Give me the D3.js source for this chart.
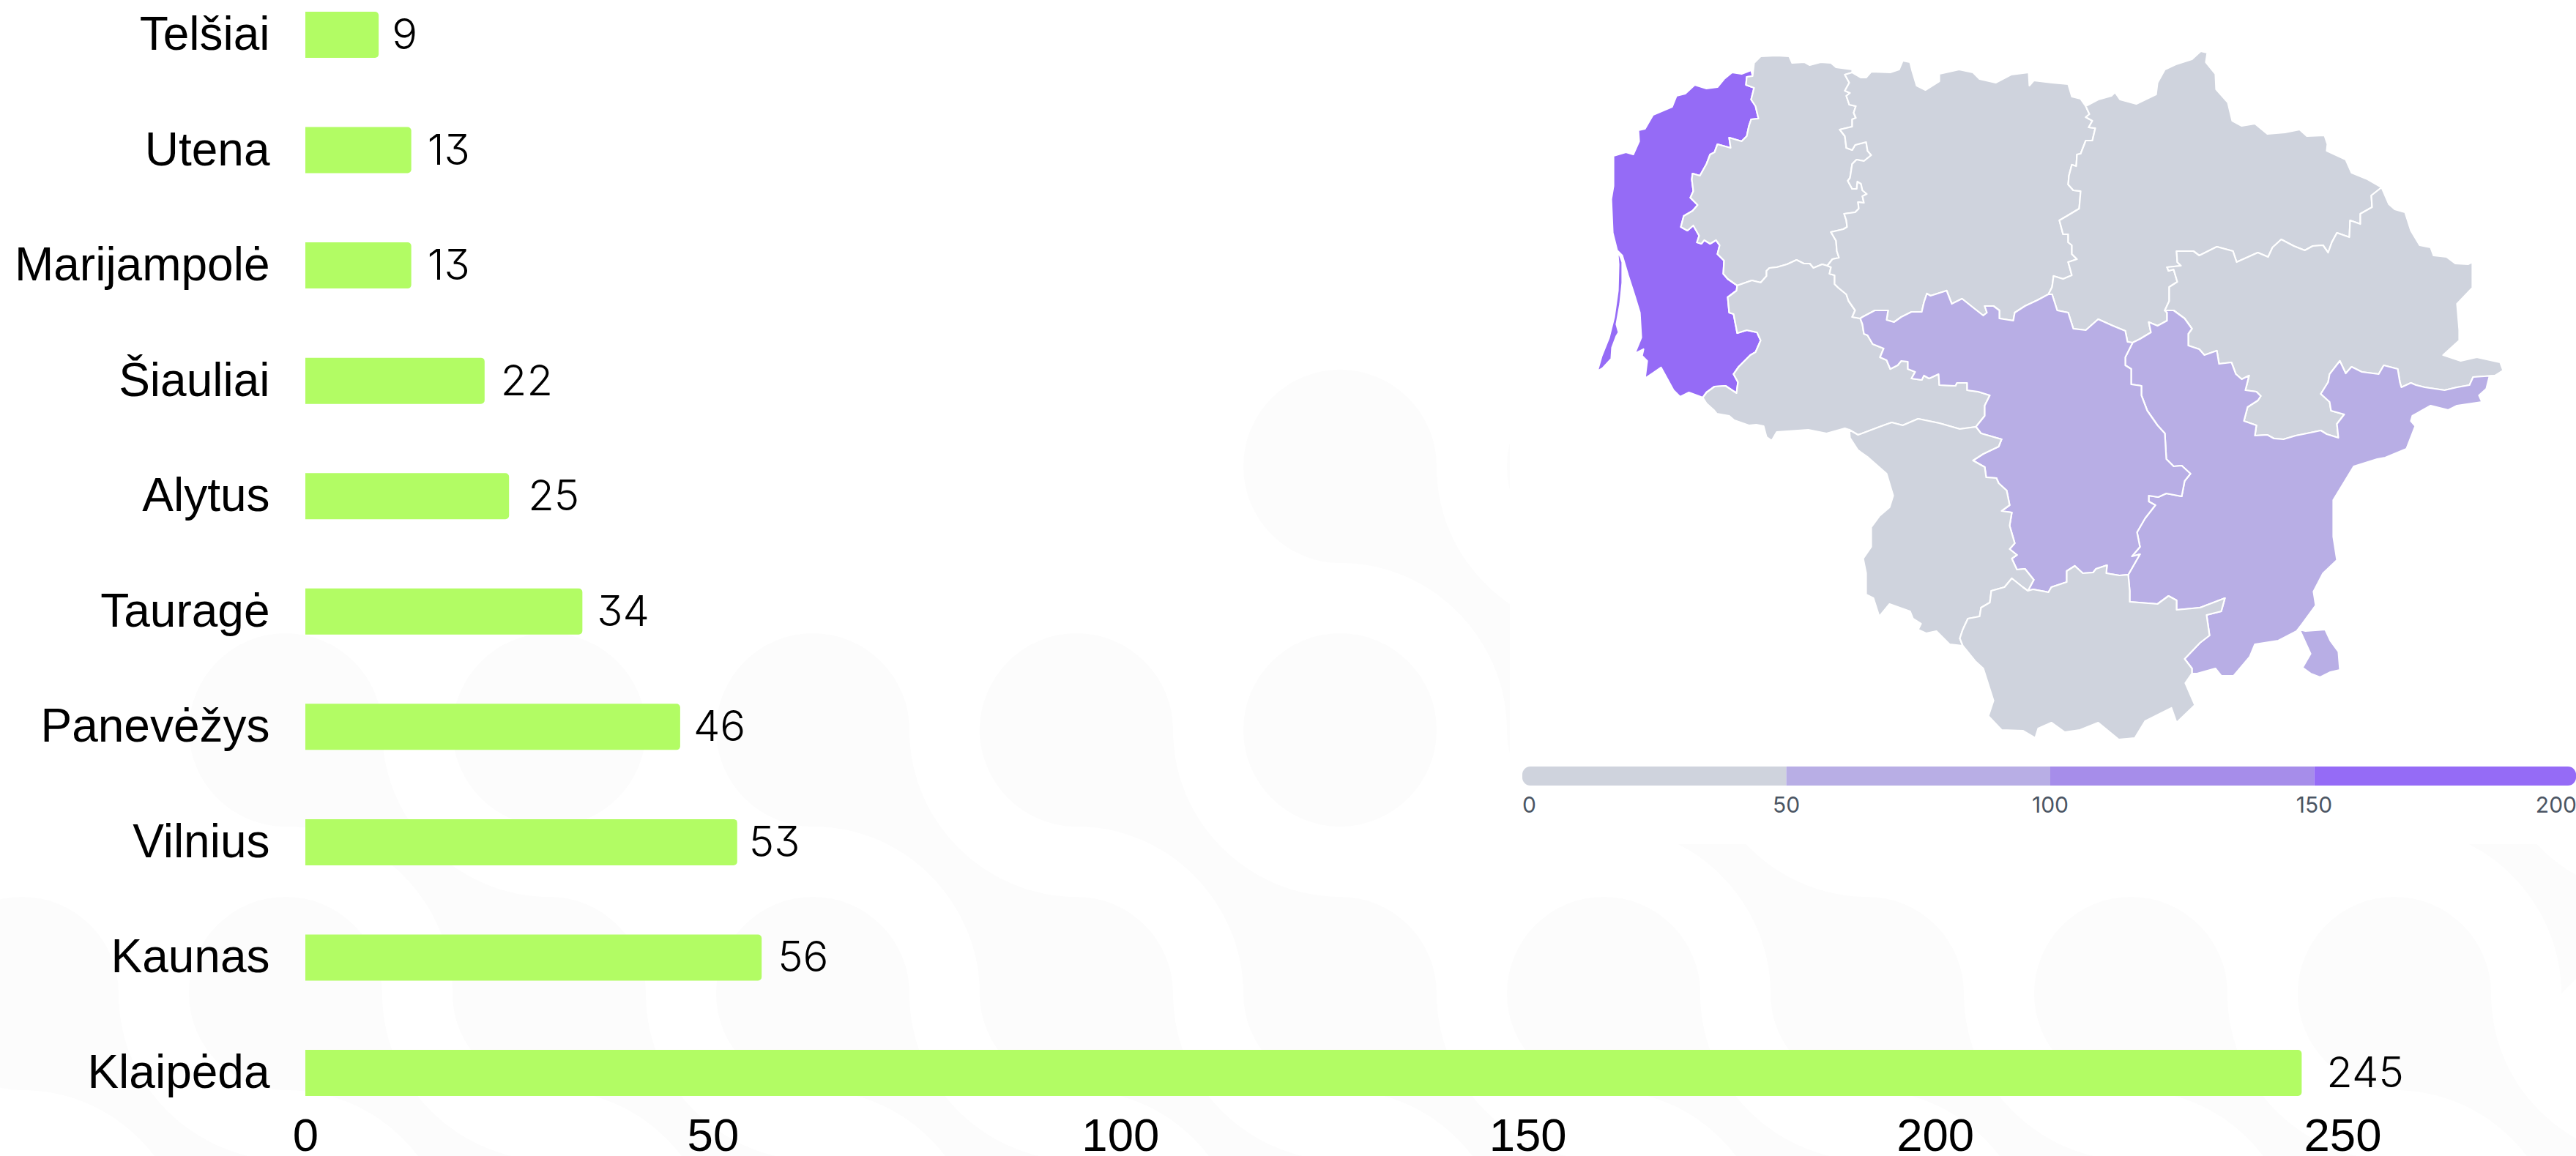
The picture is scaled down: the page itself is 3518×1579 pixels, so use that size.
<!DOCTYPE html>
<html><head><meta charset="utf-8">
<style>html,body{margin:0;padding:0;background:#fff;overflow:hidden}svg{display:block}</style>
<script src="https://cdn.jsdelivr.net/npm/d3@7"></script>
</head><body><svg id="c" width="3518" height="1579"></svg>
<script>
// ---------- bar chart data ----------
const categories=["Telšiai","Utena","Marijampolė","Šiauliai","Alytus","Tauragė","Panevėžys","Vilnius","Kaunas","Klaipėda"];
const values=[9,13,13,22,25,34,46,53,56,245];
const xTicks=[0,50,100,150,200,250];
// ---------- legend ----------
const legendBreaks=[50,100,150];
const legendColors=["#cfd3dd","#b8aee5","#a68dea","#956bf6"];
const legendTicks=[0,50,100,150,200];
// ---------- background motif (tile column,row) ----------
const motifCircles=[[5,0],[6,0],[1,1],[2,1],[3,1],[4,1],[5,1],[6,1],[0,2],[1,2],[2,2],[3,2],[4,2],[5,2],[6,2],[7,2],[8,2],[9,2]];
const motifStems=[[5,0],[1,1],[3,1],[4,1],[6,1],[9,1],[0,2],[1,2],[2,2],[3,2],[4,2],[5,2],[6,2],[7,2],[8,2],[9,2]];
// ---------- map borders (map units) ----------
const coast=[[2395,104],[2393,96],[2380,101],[2367,99],[2356,108],[2347,119],[2332,121],[2316,116],[2303,128],[2291,131],[2285,146],[2259,157],[2248,176],[2239,178],[2240,193],[2232,211],[2222,208],[2205,213],[2205,254],[2202,272],[2204,318],[2210,342],[2217,349],[2225,376],[2234,404],[2241,427],[2243,461],[2234,483],[2246,477],[2244,486],[2251,493],[2248,517],[2270,502],[2287,533],[2296,542],[2308,536],[2327,543]];
const klTaurage=[[2327,543],[2332,536],[2343,528],[2358,527],[2373,537],[2375,522],[2369,511],[2376,501],[2392,485],[2399,481],[2406,465],[2401,454],[2387,451],[2374,455],[2369,429],[2363,427],[2361,406],[2373,397],[2374,390]];
const klTelsiai=[[2374,390],[2361,381],[2355,374],[2356,356],[2347,347],[2350,335],[2345,328],[2337,333],[2329,328],[2325,333],[2319,331],[2322,322],[2314,308],[2306,315],[2297,310],[2301,295],[2313,288],[2320,280],[2310,270],[2314,261],[2312,245],[2313,237],[2323,240],[2332,224],[2337,211],[2343,208],[2347,197],[2365,202],[2363,188],[2380,193],[2387,186],[2390,172],[2393,163],[2403,162],[2399,145],[2393,136],[2397,120],[2386,116],[2387,105],[2395,104]];
const spit=[[2183,507],[2190,503],[2202,490],[2203,475],[2209,459],[2212,454],[2209,443],[2214,415],[2217,386],[2217,358],[2213,347],[2211,349],[2212,361],[2211,397],[2206,433],[2199,461],[2189,486],[2180,506]];
const telsiaiNorth=[[2395,104],[2397,86],[2406,77],[2428,76],[2445,77],[2449,86],[2466,85],[2473,89],[2488,85],[2502,86],[2509,92],[2531,95],[2531,99]];
const telsiaiSiauliai=[[2531,99],[2521,102],[2527,113],[2521,124],[2528,127],[2523,131],[2527,143],[2536,145],[2533,154],[2536,161],[2531,163],[2531,173],[2514,177],[2521,186],[2523,202],[2531,205],[2535,198],[2550,194],[2552,206],[2557,212],[2547,220],[2537,218],[2531,224],[2528,243],[2525,247],[2531,258],[2537,258],[2538,248],[2543,251],[2545,260],[2551,265],[2545,268],[2547,277],[2539,276],[2540,285],[2535,290],[2520,292],[2523,301],[2524,310],[2519,313],[2502,317],[2509,329],[2510,343],[2513,352],[2504,354],[2497,363]];
const telsiaiTaurage=[[2497,363],[2490,361],[2478,366],[2473,360],[2465,360],[2455,355],[2442,361],[2428,365],[2418,366],[2414,370],[2414,377],[2406,386],[2394,383],[2374,390]];
const tauSouth=[[2327,543],[2332,551],[2342,560],[2346,565],[2363,568],[2370,574],[2390,581],[2400,580],[2410,582],[2414,597],[2421,602],[2428,590],[2471,587],[2496,592],[2521,585],[2527,587]];
const tauMarij=[[2527,587],[2539,594],[2571,582],[2585,577],[2600,581],[2621,572],[2650,578],[2678,586],[2700,583]];
const tauKaunas=[[2700,583],[2712,568],[2712,554],[2719,540],[2703,535],[2688,533],[2688,523],[2674,523],[2672,527],[2650,526],[2649,511],[2636,517],[2629,513],[2626,519],[2612,517],[2617,508],[2607,504],[2607,494],[2598,493],[2593,499],[2583,504],[2578,492],[2569,488],[2574,476],[2559,470],[2552,458],[2547,456],[2545,443],[2542,435]];
const tauSiauliai=[[2542,435],[2531,433],[2535,424],[2526,411],[2523,402],[2512,393],[2507,388],[2507,376],[2500,374],[2502,365],[2497,363]];
const siauliaiNorth=[[2531,99],[2543,106],[2550,106],[2557,98],[2583,99],[2595,95],[2600,83],[2610,85],[2613,97],[2619,117],[2631,123],[2650,111],[2650,101],[2677,95],[2696,99],[2705,108],[2727,113],[2748,102],[2772,99],[2773,117],[2779,110],[2804,113],[2826,115],[2831,132],[2843,135],[2850,145]];
const siauliaiPan=[[2850,145],[2855,156],[2850,160],[2859,165],[2854,174],[2863,175],[2859,192],[2850,192],[2843,210],[2838,211],[2837,227],[2831,225],[2827,240],[2826,252],[2833,260],[2843,261],[2841,285],[2826,294],[2814,301],[2819,320],[2826,320],[2826,331],[2831,335],[2831,347],[2838,354],[2826,358],[2831,376],[2819,381],[2806,377],[2804,392],[2799,402]];
const siauliaiKaunas=[[2799,402],[2784,410],[2767,418],[2753,427],[2751,438],[2732,435],[2732,424],[2724,418],[2712,418],[2715,427],[2710,431],[2696,420],[2681,408],[2667,415],[2660,397],[2638,404],[2633,401],[2629,413],[2626,426],[2612,426],[2598,433],[2588,440],[2578,437],[2580,424],[2562,424],[2545,433],[2542,435]];
const panNorth=[[2850,145],[2867,136],[2885,131],[2890,126],[2897,136],[2919,142],[2946,129],[2948,113],[2958,95],[2973,88],[2995,81],[3007,70],[3016,72],[3014,85],[3027,101],[3028,122],[3044,140],[3050,165],[3063,172],[3081,169],[3098,183],[3122,181],[3142,177],[3152,186],[3176,185],[3180,197],[3179,206],[3205,218],[3213,236],[3235,245],[3254,256]];
const panUtena=[[3254,256],[3240,267],[3241,283],[3225,292],[3225,306],[3211,301],[3210,324],[3193,318],[3186,331],[3181,345],[3174,335],[3160,336],[3149,342],[3134,336],[3117,327],[3105,338],[3099,351],[3085,345],[3056,358],[3051,343],[3029,337],[3017,343],[3005,349],[2997,343],[2974,343],[2975,358],[2980,363],[2961,365],[2963,370],[2970,368],[2975,385],[2964,392],[2964,411],[2958,424]];
const panVilnius=[[2958,424],[2961,427],[2961,438],[2948,445],[2936,440],[2939,454],[2924,463],[2914,468]];
const panKaunas=[[2914,468],[2907,467],[2904,452],[2887,445],[2867,436],[2850,451],[2833,449],[2826,427],[2811,424],[2804,402],[2799,402]];
const utenaOuter=[[3254,256],[3264,279],[3272,286],[3286,290],[3294,315],[3306,335],[3321,338],[3325,349],[3343,351],[3355,360],[3372,361],[3378,358],[3378,393],[3357,415],[3360,451],[3360,465],[3338,485],[3362,493],[3384,488],[3416,495],[3420,506],[3409,513]];
const utenaVilnius=[[3409,513],[3379,515],[3374,526],[3357,529],[3340,533],[3313,529],[3301,526],[3294,523],[3281,529],[3279,522],[3276,504],[3257,499],[3250,511],[3227,508],[3213,501],[3205,510],[3197,493],[3183,511],[3181,522],[3171,538],[3183,549],[3185,561],[3203,566],[3193,579],[3195,598],[3179,593],[3171,588],[3152,592],[3137,595],[3120,600],[3107,599],[3098,594],[3081,595],[3083,581],[3066,575],[3071,556],[3085,547],[3089,541],[3083,535],[3068,533],[3073,513],[3063,518],[3055,511],[3049,495],[3032,497],[3029,479],[3012,485],[3005,477],[2990,472],[2990,456],[2995,449],[2985,435],[2970,424],[2958,424]];
const vilOuter=[[3409,513],[3401,515],[3397,531],[3387,540],[3391,549],[3357,554],[3345,560],[3321,554],[3296,568],[3294,575],[3300,582],[3288,613],[3259,625],[3248,627],[3216,637],[3202,660],[3188,683],[3188,733],[3193,765],[3174,783],[3161,808],[3164,827],[3145,853],[3138,862],[3113,875],[3081,880],[3074,897],[3052,923],[3035,923],[3027,913],[3002,920],[2995,920]];
const vilAlytus=[[2995,920],[2995,913],[2985,900],[3006,878],[3019,868],[3015,840],[3035,835],[3040,817],[3006,830],[2974,833],[2974,820],[2963,814],[2948,825],[2910,822],[2910,807],[2908,785]];
const vilKaunas=[[2908,785],[2924,757],[2913,760],[2924,747],[2920,727],[2931,708],[2945,690],[2936,685],[2936,677],[2949,679],[2960,674],[2981,678],[2985,657],[2993,647],[2981,636],[2970,637],[2960,627],[2958,592],[2948,581],[2934,561],[2926,540],[2926,527],[2912,525],[2912,504],[2904,499],[2904,488],[2914,468]];
const kauAlytus=[[2908,785],[2896,786],[2878,783],[2879,772],[2864,777],[2860,782],[2846,783],[2835,773],[2824,780],[2824,795],[2803,802],[2799,809],[2778,805],[2771,807]];
const kauMarij=[[2771,807],[2779,792],[2767,777],[2756,778],[2749,763],[2756,758],[2746,750],[2753,742],[2746,718],[2749,700],[2735,698],[2746,690],[2742,670],[2731,660],[2728,653],[2714,652],[2712,638],[2696,629],[2710,620],[2731,610],[2735,600],[2707,592],[2700,583]];
const marijAlytus=[[2771,807],[2764,802],[2749,790],[2739,802],[2721,807],[2719,823],[2707,830],[2705,842],[2689,845],[2682,860],[2678,872],[2682,882]];
const marijOuter=[[2682,882],[2664,880],[2646,862],[2632,865],[2621,860],[2625,852],[2614,845],[2610,835],[2582,825],[2568,842],[2560,817],[2550,812],[2550,783],[2546,763],[2557,747],[2557,720],[2568,705],[2582,693],[2587,677],[2578,647],[2553,625],[2539,615],[2528,598],[2527,587]];
const alytusOuter=[[2682,882],[2699,903],[2710,913],[2724,957],[2717,978],[2735,997],[2764,998],[2781,1008],[2785,995],[2803,987],[2821,1000],[2842,997],[2867,987],[2895,1010],[2917,1008],[2931,985],[2967,967],[2974,987],[2999,963],[2986,933],[2995,920]];
const vilniusLobe=[[3142,860],[3150,862],[3177,860],[3184,875],[3195,890],[3197,915],[3184,918],[3170,925],[3157,920],[3146,912],[3157,893],[3148,870]];

// ---------- compose regions ----------
const rev=a=>a.slice().reverse();
const regionRings={
 "Klaipėda":[[...coast,...klTaurage,...klTelsiai],spit],
 "Telšiai":[[...telsiaiNorth,...telsiaiSiauliai,...telsiaiTaurage,...klTelsiai]],
 "Tauragė":[[...rev(klTaurage),...tauSouth,...tauMarij,...tauKaunas,...tauSiauliai,...telsiaiTaurage]],
 "Šiauliai":[[...siauliaiNorth,...siauliaiPan,...siauliaiKaunas,...tauSiauliai,...rev(telsiaiSiauliai)]],
 "Panevėžys":[[...panNorth,...panUtena,...panVilnius,...panKaunas,...rev(siauliaiPan)]],
 "Utena":[[...utenaOuter,...utenaVilnius,...rev(panUtena)]],
 "Vilnius":[[...vilOuter,...vilAlytus,...vilKaunas,...rev(panVilnius),...rev(utenaVilnius)],vilniusLobe],
 "Kaunas":[[...tauKaunas,...rev(siauliaiKaunas),...rev(panKaunas),...rev(vilKaunas),...kauAlytus,...kauMarij]],
 "Marijampolė":[[...rev(tauMarij),...rev(marijOuter),...rev(marijAlytus),...kauMarij]],
 "Alytus":[[...marijAlytus,...alytusOuter,...vilAlytus,...kauAlytus]]
};

// ---------- drawing ----------
const W=3518,H=1579,svg=d3.select("#c");
const valueByName=new Map(categories.map((c,i)=>[c,values[i]]));
const defs=svg.append("defs");

// background motif
const cp=defs.append("clipPath").attr("id","wm");
cp.append("rect").attr("x",0).attr("y",0).attr("width",2062).attr("height",H);
cp.append("rect").attr("x",0).attr("y",1153).attr("width",W).attr("height",H-1153);
const col=d3.scaleLinear().domain([0,1]).range([30,390]);
const row=d3.scaleLinear().domain([0,1]).range([637,997]);
const R=132,S=360;
const wm=svg.append("g").attr("clip-path","url(#wm)").attr("fill","#fcfcfc");
wm.selectAll("circle").data(motifCircles).join("circle").attr("cx",d=>col(d[0])).attr("cy",d=>row(d[1])).attr("r",R);
wm.selectAll("path").data(motifStems).join("path").attr("d",d=>{
  const x=col(d[0]),y=row(d[1]),p=d3.path();
  p.moveTo(x+R,y);
  p.bezierCurveTo(x+R,y+130,x+240,y+S-R,x+S,y+S-R);
  p.lineTo(x+S-R,y+S);
  p.bezierCurveTo(x+S-R,y+240,x+130,y+R,x,y+R);
  p.closePath();
  return p.toString();
});

// bars
const x=d3.scaleLinear().domain([0,250]).range([417,3199]);
const y=d3.scaleBand().domain(categories).range([-31.3,1544.3]).paddingInner(0.6).paddingOuter(0.3);
const rad=5;
svg.append("g").selectAll("path").data(categories).join("path").attr("fill","#b2fc64").attr("d",(c,i)=>{
  const x0=x(0),x1=x(values[i]),y0=y(c),y1=y0+y.bandwidth(),p=d3.path();
  p.moveTo(x0,y0);p.lineTo(x1-rad,y0);p.arcTo(x1,y0,x1,y0+rad,rad);p.lineTo(x1,y1-rad);p.arcTo(x1,y1,x1-rad,y1,rad);p.lineTo(x0,y1);p.closePath();
  return p.toString();
});
svg.append("g").selectAll("text").data(categories).join("text")
  .attr("x",368.5).attr("y",c=>y(c)+52).attr("text-anchor","end")
  .style("font","64px 'Liberation Sans'").attr("fill","#000").text(c=>c);
// gap between each bar end and its value label, as seen in the picture
const labelGaps=[18,22,22,22,26,20,18,16,22,34];
svg.append("g").selectAll("text").data(values).join("text")
  .attr("x",(v,i)=>x(v)+labelGaps[i]).attr("y",(v,i)=>y(categories[i])+51)
  .style("font","350 58px Inter").style("font-feature-settings","'cv09' 1").attr("fill","#000").text(v=>v);

// x axis
const axis=svg.append("g").attr("transform","translate(0,1572)").call(d3.axisBottom(x).tickValues(xTicks).tickSize(0).tickPadding(0));
axis.select(".domain").remove();
axis.selectAll("text").attr("dy",0).attr("y",0).style("font","63.5px 'Liberation Sans'").attr("fill","#000");

// map
const features=Object.entries(regionRings).map(([name,rings])=>({type:"Feature",properties:{name,value:valueByName.get(name)},
  geometry:{type:"MultiPolygon",coordinates:rings.map(r=>[r])}}));
const fc={type:"FeatureCollection",features};
const projection=d3.geoIdentity().fitExtent([[2180,70],[3420,1010]],fc);
const path=d3.geoPath(projection);
const color=d3.scaleThreshold().domain(legendBreaks).range(legendColors);
svg.append("g").selectAll("path").data(features).join("path").attr("d",path)
  .attr("fill",d=>color(d.properties.value)).attr("stroke","#fff").attr("stroke-width",2.2).attr("stroke-linejoin","round");

// legend
defs.append("clipPath").attr("id","lg").append("rect").attr("x",2079).attr("y",1047).attr("width",1439).attr("height",26).attr("rx",11);
const lx=d3.scaleLinear().domain([0,200]).range([2079,3521]);
const stops=[0,...legendBreaks,200];
svg.append("g").attr("clip-path","url(#lg)").selectAll("rect").data(legendColors).join("rect")
  .attr("x",(d,i)=>lx(stops[i])).attr("width",(d,i)=>lx(stops[i+1])-lx(stops[i])).attr("y",1047).attr("height",26).attr("fill",d=>d);
svg.append("g").selectAll("text").data(legendTicks).join("text")
  .attr("x",(d,i)=>i==0?2079:i==4?3519:lx(d)).attr("y",1110)
  .attr("text-anchor",(d,i)=>i==0?"start":i==4?"end":"middle")
  .style("font","30px Inter").attr("fill","#4b5563").text(d=>d);
</script></body></html>
